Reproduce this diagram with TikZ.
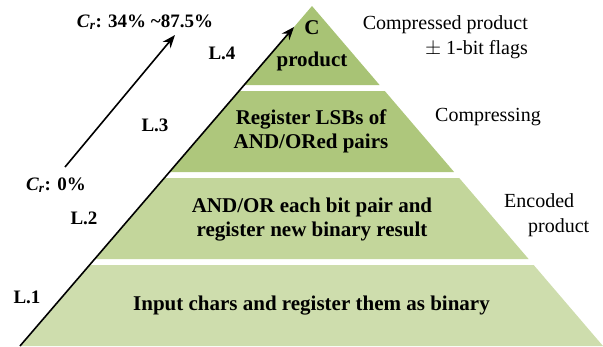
\documentclass[tikz,border=0pt]{standalone}
\usepackage{fontspec}
\setmainfont{Liberation Serif}
\usetikzlibrary{arrows.meta}
\definecolor{tierone}{RGB}{206,221,173}
\definecolor{tiertwo}{RGB}{195,214,155}
\definecolor{tierthree}{RGB}{174,199,124}
\definecolor{tierfour}{RGB}{168,195,117}
\newcommand{\Cr}{\textit{C}\textsubscript{\textit{r}}}
\begin{document}
\begin{tikzpicture}[x=1pt, y=-1pt,
    every node/.style = {align=center, inner sep=0pt},
    tiertext/.style = {font=\fontsize{21}{24}\selectfont\bfseries},
    sidetext/.style = {font=\fontsize{20}{25}\selectfont},
    leveltext/.style = {font=\fontsize{19}{22}\selectfont\bfseries},
    levelarrow/.style = {line width=1.6pt, -{Stealth[length=13pt, width=10pt]}}]
    \useasboundingbox (0,0) rectangle (603,346);

    % pyramid tiers
    \fill[tierone] (21,346) -- (90.3,265) -- (533.7,265) -- (603,346) -- cycle;
    \fill[tiertwo] (95.4,259) -- (164.8,178) -- (459.2,178) -- (528.6,259) -- cycle;
    \fill[tierthree] (169.9,172) -- (239.2,91) -- (384.8,91) -- (454.1,172) -- cycle;
    \fill[tierfour] (244.4,85) -- (312,6) -- (379.6,85) -- cycle;

    \node (t4) at (312, 46) [tiertext] {C\\[8pt]product};
    \node (t3) at (311, 131.5) [tiertext] {Register LSBs of\\AND/ORed pairs};
    \node (t2) at (312, 220) [tiertext] {AND/OR each bit pair and\\register new binary result};
    \node (t1) at (311.5, 306) [tiertext] {Input chars and register them as binary};

    % stage notes
    \node (s4) at (528, 37.5) [sidetext, anchor=east, align=right] {Compressed product\\$\pm$ 1-bit flags};
    \node (s3) at (488, 117) [sidetext] {Compressing};
    \node (s2) at (504, 215.5) [sidetext, anchor=west, align=left] {Encoded\\\hspace{24pt}product};

    % levels
    \node (l4) at (222, 53) [leveltext] {L.4};
    \node (l3) at (155, 125) [leveltext] {L.3};
    \node (l2) at (84, 218) [leveltext] {L.2};
    \node (l1) at (27, 297) [leveltext] {L.1};

    % compression ratio
    \node (crhigh) at (145, 22) [leveltext] {\Cr: 34\% \textasciitilde 87.5\%};
    \node (crlow) at (56, 185) [leveltext] {\Cr: 0\%};

    \coordinate (base) at (20, 346);
    \coordinate (apex) at (294, 27);
    \coordinate (crstart) at (65, 167);
    \coordinate (crend) at (175, 35);
    \draw[levelarrow] (base) -- (apex);
    \draw[levelarrow] (crstart) -- (crend);
\end{tikzpicture}
\end{document}
